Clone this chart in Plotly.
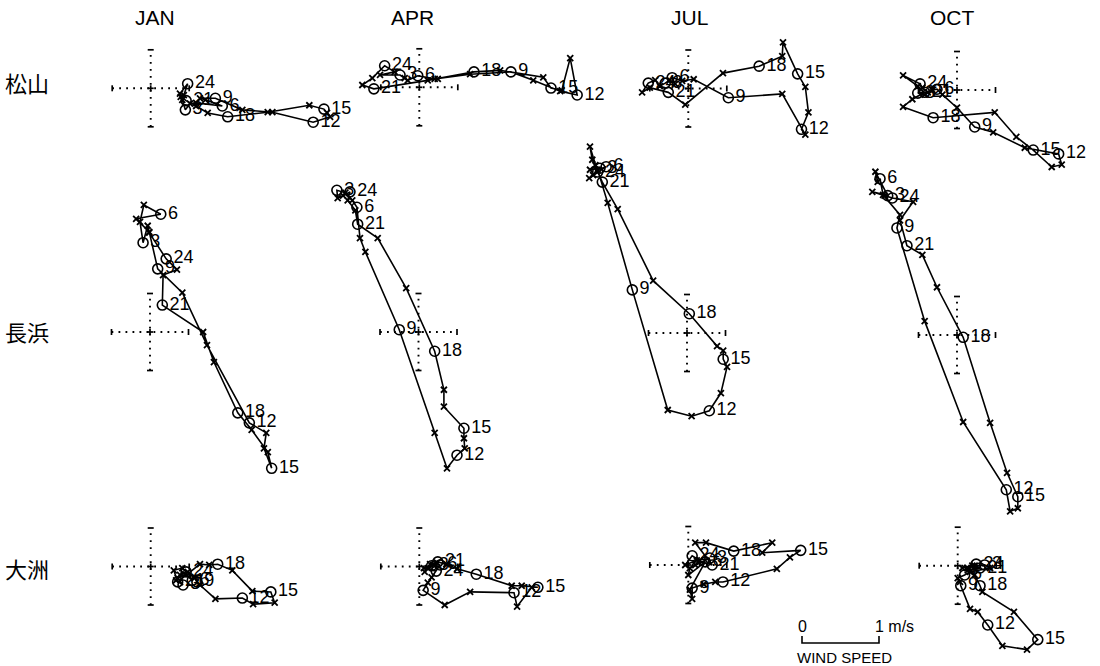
import plotly.graph_objects as go

# ---------------- data (m/s; u = east component, v = north component), hours 1..24 -------------
HOURS = list(range(1, 25))
MONTHS = ["JAN", "APR", "JUL", "OCT"]
STATIONS = ["松山", "長浜", "大洲"]

MAT_JAN_U = [0.43, 0.41, 0.45, 0.51, 0.59, 0.93, 0.71, 0.64, 0.84, 1.19, 1.58, 2.11, 2.33, 2.29, 2.25, 2.06, 1.52, 1.00, 0.74, 0.59, 0.46, 0.39, 0.38, 0.48]
MAT_JAN_V = [-0.09, -0.15, -0.28, -0.20, -0.19, -0.23, -0.15, -0.13, -0.13, -0.28, -0.31, -0.44, -0.37, -0.32, -0.27, -0.22, -0.31, -0.37, -0.32, -0.23, -0.16, -0.11, -0.07, 0.06]
MAT_APR_U = [-0.32, -0.51, -0.25, -0.19, -0.15, -0.02, 0.20, 0.66, 1.19, 1.48, 1.83, 2.05, 1.96, 1.85, 1.71, 1.61, 1.05, 0.71, 0.24, 0.11, -0.59, -0.74, -0.61, -0.45]
MAT_APR_V = [0.20, 0.16, 0.16, 0.12, 0.09, 0.15, 0.11, 0.17, 0.20, 0.09, -0.05, -0.10, 0.38, -0.04, -0.01, 0.13, 0.22, 0.20, 0.11, 0.09, -0.02, 0.03, 0.12, 0.28]
MAT_JUL_U = [-0.43, -0.37, -0.30, -0.24, -0.17, -0.21, -0.08, 0.07, 0.52, 1.22, 1.52, 1.47, 1.56, 1.52, 1.42, 1.23, 1.22, 0.92, 0.45, -0.04, -0.26, -0.50, -0.60, -0.52]
MAT_JUL_V = [0.11, 0.03, 0.07, 0.11, 0.06, 0.14, 0.10, 0.12, -0.12, -0.07, -0.60, -0.53, -0.31, 0.02, 0.19, 0.60, 0.42, 0.29, 0.20, -0.21, -0.05, 0.01, -0.05, 0.07]
MAT_OCT_U = [-0.45, -0.38, -0.51, -0.42, -0.32, -0.26, -0.19, 0.00, 0.23, 0.47, 0.88, 1.32, 1.36, 1.23, 0.99, 0.77, 0.49, -0.31, -0.70, -0.58, -0.42, -0.51, -0.70, -0.48]
MAT_OCT_V = [0.03, -0.03, -0.04, -0.06, 0.00, 0.01, -0.06, -0.23, -0.48, -0.55, -0.75, -0.83, -0.97, -1.00, -0.78, -0.61, -0.29, -0.36, -0.22, -0.12, -0.03, 0.05, 0.19, 0.08]

NAG_JAN_U = [-0.01, -0.03, -0.09, -0.13, -0.08, 0.14, -0.18, -0.01, 0.10, 0.42, 0.74, 1.29, 1.51, 1.48, 1.58, 1.53, 1.32, 1.14, 0.83, 0.69, 0.16, 0.17, 0.35, 0.21]
NAG_JAN_V = [1.29, 1.38, 1.16, 1.43, 1.65, 1.53, 1.47, 1.30, 0.82, 0.51, -0.17, -1.18, -1.31, -1.51, -1.77, -1.56, -1.27, -1.05, -0.39, 0.00, 0.35, 0.74, 0.81, 0.95]
NAG_APR_U = [-0.98, -1.05, -1.06, -0.95, -0.86, -0.80, -0.76, -0.69, -0.25, 0.21, 0.37, 0.50, 0.60, 0.59, 0.59, 0.33, 0.33, 0.21, -0.16, -0.53, -0.79, -0.82, -0.92, -0.89]
NAG_APR_V = [1.77, 1.74, 1.84, 1.81, 1.71, 1.62, 1.22, 1.04, 0.03, -1.31, -1.77, -1.60, -1.51, -1.38, -1.25, -0.97, -0.75, -0.25, 0.57, 1.22, 1.40, 1.58, 1.71, 1.82]
NAG_JUL_U = [-1.19, -1.26, -1.13, -1.22, -1.27, -1.05, -1.16, -1.03, -0.71, -0.25, 0.06, 0.29, 0.44, 0.52, 0.47, 0.47, 0.39, 0.03, -0.44, -0.90, -1.10, -1.23, -1.26, -1.16]
NAG_JUL_V = [2.18, 2.12, 2.14, 2.05, 2.01, 2.16, 2.12, 1.69, 0.56, -1.00, -1.08, -1.01, -0.78, -0.44, -0.34, -0.23, -0.17, 0.25, 0.68, 1.61, 1.96, 2.25, 2.42, 2.09]
NAG_OCT_U = [-0.94, -1.10, -0.90, -1.06, -1.03, -1.00, -0.96, -0.74, -0.78, -0.42, 0.08, 0.64, 0.69, 0.79, 0.79, 0.65, 0.43, 0.08, -0.26, -0.45, -0.65, -0.74, -0.57, -0.84]
NAG_OCT_V = [1.81, 1.86, 1.81, 2.12, 1.99, 2.03, 1.82, 1.56, 1.39, 0.18, -1.13, -2.01, -2.29, -2.25, -2.10, -1.79, -1.14, -0.03, 0.62, 1.04, 1.16, 1.49, 1.73, 1.78]

OZU_JAN_U = [0.38, 0.33, 0.42, 0.35, 0.45, 0.54, 0.48, 0.57, 0.60, 0.64, 0.84, 1.19, 1.33, 1.61, 1.56, 1.32, 1.06, 0.87, 0.76, 0.64, 0.35, 0.30, 0.41, 0.46]
OZU_JAN_V = [-0.11, -0.18, -0.24, -0.15, -0.10, -0.18, -0.07, -0.15, -0.20, -0.24, -0.42, -0.41, -0.49, -0.47, -0.33, -0.32, -0.05, 0.03, 0.02, 0.03, -0.20, -0.05, -0.02, -0.07]
OZU_APR_U = [0.11, 0.07, 0.16, 0.23, 0.14, 0.27, 0.16, 0.11, 0.05, 0.33, 0.66, 1.23, 1.27, 1.46, 1.54, 1.33, 1.20, 0.74, 0.49, 0.35, 0.24, 0.18, 0.06, 0.22]
OZU_APR_V = [-0.02, -0.07, 0.01, 0.05, 0.03, 0.02, -0.14, -0.21, -0.31, -0.50, -0.33, -0.34, -0.52, -0.27, -0.27, -0.25, -0.25, -0.10, -0.03, 0.03, 0.06, 0.02, -0.02, -0.06]
OZU_JUL_U = [0.15, 0.09, 0.28, 0.02, 0.00, 0.22, 0.02, 0.05, 0.05, 0.20, 0.35, 0.45, 1.15, 1.32, 1.46, 0.96, 1.09, 0.59, 0.23, 0.09, 0.31, 0.11, -0.04, 0.05]
OZU_JUL_V = [0.06, 0.00, 0.09, -0.04, -0.13, 0.04, -0.32, -0.44, -0.30, -0.25, -0.22, -0.22, -0.05, 0.10, 0.19, 0.16, 0.29, 0.18, 0.29, 0.29, 0.00, 0.06, 0.00, 0.12]
OZU_OCT_U = [0.13, 0.22, 0.35, 0.42, 0.16, 0.09, 0.00, 0.03, 0.04, 0.16, 0.26, 0.39, 0.58, 0.90, 1.04, 0.73, 0.32, 0.29, 0.22, 0.13, 0.29, 0.19, 0.06, 0.24]
OZU_OCT_V = [-0.03, 0.00, 0.01, -0.03, -0.08, -0.12, -0.16, -0.21, -0.26, -0.56, -0.60, -0.77, -1.04, -1.09, -0.96, -0.60, -0.34, -0.26, -0.12, -0.06, -0.03, 0.00, -0.03, 0.02]

SERIES = {
    ("松山", "JAN"): (MAT_JAN_U, MAT_JAN_V), ("松山", "APR"): (MAT_APR_U, MAT_APR_V),
    ("松山", "JUL"): (MAT_JUL_U, MAT_JUL_V), ("松山", "OCT"): (MAT_OCT_U, MAT_OCT_V),
    ("長浜", "JAN"): (NAG_JAN_U, NAG_JAN_V), ("長浜", "APR"): (NAG_APR_U, NAG_APR_V),
    ("長浜", "JUL"): (NAG_JUL_U, NAG_JUL_V), ("長浜", "OCT"): (NAG_OCT_U, NAG_OCT_V),
    ("大洲", "JAN"): (OZU_JAN_U, OZU_JAN_V), ("大洲", "APR"): (OZU_APR_U, OZU_APR_V),
    ("大洲", "JUL"): (OZU_JUL_U, OZU_JUL_V), ("大洲", "OCT"): (OZU_OCT_U, OZU_OCT_V),
}

# ---------------- layout constants (pixels) ----------------
W, H = 1100, 666
PX_PER_MS = 77.0
PANEL_CENTER = {
    ("松山", "JAN"): (150.7, 88.3), ("松山", "APR"): (419.3, 87.3),
    ("松山", "JUL"): (688.3, 88.5), ("松山", "OCT"): (957.0, 90.0),
    ("長浜", "JAN"): (150.0, 332.0), ("長浜", "APR"): (418.5, 332.0),
    ("長浜", "JUL"): (687.0, 333.0), ("長浜", "OCT"): (957.0, 335.0),
    ("大洲", "JAN"): (150.7, 566.5), ("大洲", "APR"): (419.3, 566.5),
    ("大洲", "JUL"): (688.3, 565.0), ("大洲", "OCT"): (957.7, 565.7),
}
SCALEBAR_ORIGIN = (802.0, 643.0)
MONTH_TITLE_POS = {"JAN": (155, 17), "APR": (412, 17), "JUL": (689, 17), "OCT": (952, 17)}
STATION_POS = {"松山": (27, 82), "長浜": (27, 331), "大洲": (27, 568)}

FONT = "Liberation Sans, Arial, Helvetica, sans-serif"
CJK = "Noto Sans CJK JP"
ARM = 0.5                   # crosshair half length, m/s
TICK = 3.0 / PX_PER_MS      # end-tick half length

fig = go.Figure()
axes_layout = {}


def add_axes(k, cx, cy):
    xn = "x" if k == 1 else f"x{k}"
    yn = "y" if k == 1 else f"y{k}"
    axes_layout["xaxis" if k == 1 else f"xaxis{k}"] = dict(
        domain=[0, 1], range=[-cx / PX_PER_MS, (W - cx) / PX_PER_MS],
        visible=False, fixedrange=True, anchor=yn)
    axes_layout["yaxis" if k == 1 else f"yaxis{k}"] = dict(
        domain=[0, 1], range=[-(H - cy) / PX_PER_MS, cy / PX_PER_MS],
        visible=False, fixedrange=True, anchor=xn)
    return xn, yn


k = 0
for st in STATIONS:
    for mo in MONTHS:
        k += 1
        cx, cy = PANEL_CENTER[(st, mo)]
        xa, ya = add_axes(k, cx, cy)
        u, v = SERIES[(st, mo)]
        # dotted crosshair
        fig.add_trace(go.Scatter(x=[-ARM, ARM, None, 0, 0], y=[0, 0, None, -ARM, ARM],
                                 mode="lines", line=dict(color="black", width=1.9, dash="1.8px,5.2px"),
                                 xaxis=xa, yaxis=ya, hoverinfo="skip"))
        # end ticks and centre plus
        fig.add_trace(go.Scatter(
            x=[-ARM, -ARM, None, ARM, ARM, None, -TICK, TICK, None, -TICK, TICK, None, -TICK, TICK, None, 0, 0],
            y=[-TICK, TICK, None, -TICK, TICK, None, ARM, ARM, None, -ARM, -ARM, None, 0, 0, None, -TICK, TICK],
            mode="lines", line=dict(color="black", width=1.7),
            xaxis=xa, yaxis=ya, hoverinfo="skip"))
        # hodograph path (closed daily loop)
        fig.add_trace(go.Scatter(x=list(u) + [u[0]], y=list(v) + [v[0]], mode="lines",
                                 line=dict(color="black", width=1.6),
                                 xaxis=xa, yaxis=ya, hoverinfo="skip"))
        xs = [(h, uu, vv) for h, uu, vv in zip(HOURS, u, v) if h % 3 != 0]
        cs = [(h, uu, vv) for h, uu, vv in zip(HOURS, u, v) if h % 3 == 0]
        fig.add_trace(go.Scatter(x=[p[1] for p in xs], y=[p[2] for p in xs], mode="markers",
                                 marker=dict(symbol="x-thin", size=6, color="black",
                                             line=dict(color="black", width=1.8)),
                                 xaxis=xa, yaxis=ya, hoverinfo="skip"))
        fig.add_trace(go.Scatter(x=[p[1] for p in cs], y=[p[2] for p in cs], mode="markers+text",
                                 text=[str(p[0]) for p in cs], textposition="middle right",
                                 textfont=dict(family=FONT, size=18, color="black"),
                                 marker=dict(symbol="circle-open", size=10, color="black",
                                             line=dict(color="black", width=1.6)),
                                 xaxis=xa, yaxis=ya, hoverinfo="skip"))

# scale bar on its own axis pair (1 m/s)
k += 1
sxa, sya = add_axes(k, *SCALEBAR_ORIGIN)
SB_TICK = 7.0 / PX_PER_MS
fig.add_trace(go.Scatter(x=[0, 0, 1, 1], y=[SB_TICK, 0, 0, SB_TICK], mode="lines",
                         line=dict(color="black", width=1.6), xaxis=sxa, yaxis=sya, hoverinfo="skip"))

annotations = []
annotations.append(dict(x=0, y=0.21, xref=sxa, yref=sya, text="0", showarrow=False,
                        font=dict(family=FONT, size=16, color="black"), xanchor="center", yanchor="middle"))
annotations.append(dict(x=1, y=0.21, xref=sxa, yref=sya, text="1 m/s", showarrow=False, xshift=-6,
                        font=dict(family=FONT, size=16, color="black"), xanchor="left", yanchor="middle"))
annotations.append(dict(x=0.55, y=-0.19, xref=sxa, yref=sya, text="WIND SPEED", showarrow=False,
                        font=dict(family=FONT, size=15, color="black"), xanchor="center", yanchor="middle"))

for mo in MONTHS:
    px, py = MONTH_TITLE_POS[mo]
    annotations.append(dict(x=px / W, y=1 - py / H, xref="paper", yref="paper", text=mo, showarrow=False,
                            font=dict(family=FONT, size=21, color="black"),
                            xanchor="center", yanchor="middle"))
for st in STATIONS:
    px, py = STATION_POS[st]
    annotations.append(dict(x=px / W, y=1 - py / H, xref="paper", yref="paper", text=st, showarrow=False,
                            font=dict(family=CJK, size=22, color="black"),
                            xanchor="center", yanchor="middle"))

fig.update_layout(width=W, height=H, margin=dict(l=0, r=0, t=0, b=0),
                  paper_bgcolor="white", plot_bgcolor="rgba(0,0,0,0)",
                  showlegend=False, annotations=annotations, **axes_layout)

fig.write_html("out.html")
